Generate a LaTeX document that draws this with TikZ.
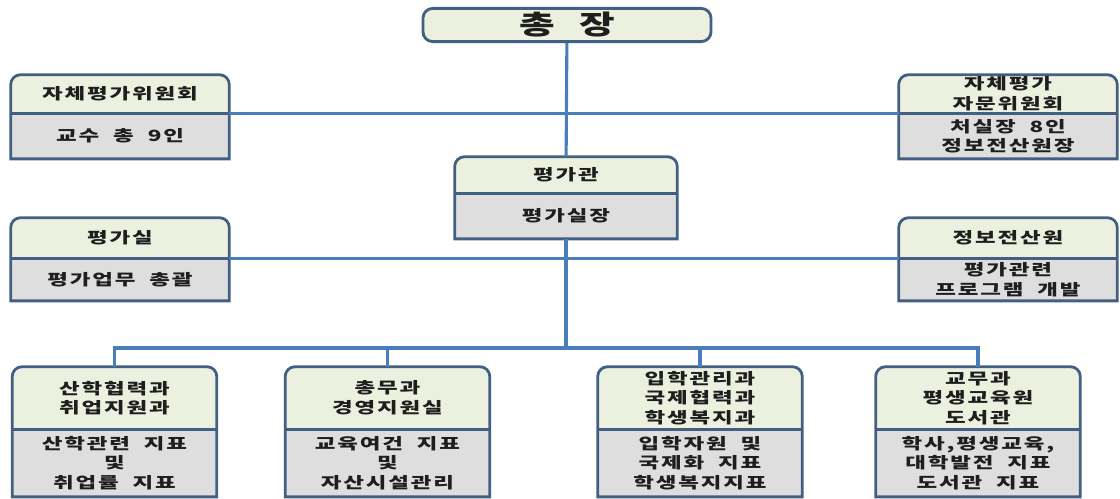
\documentclass[tikz,border=0pt]{standalone}
\usepackage{fontspec}
\usepackage{tikz}
\newfontfamily\kr{Noto Sans CJK KR}[FakeStretch=1.45,LetterSpace=12,WordSpace=2]
\usetikzlibrary{positioning,backgrounds}
\definecolor{headgreen}{RGB}{235,241,222}
\definecolor{bodygrey}{RGB}{222,222,222}
\definecolor{frameblue}{RGB}{66,96,132}
\definecolor{linkblue}{RGB}{74,126,187}
\definecolor{inkgrey}{RGB}{30,30,30}

\begin{document}
\begin{tikzpicture}[
		x=0.025cm, y=-0.025cm,
		every node/.style={font=\kr\bfseries\fontsize{11}{14}\selectfont, text=inkgrey, align=center, inner sep=0pt},
		top/.style={draw=frameblue, line width=2pt, fill=headgreen, rounded corners=7pt,
			minimum width=7.2cm, minimum height=0.83cm, font=\kr\bfseries\fontsize{19}{20}\selectfont},
		side/.style={minimum width=5.45cm},
		mid/.style={minimum width=5.55cm},
		dept/.style={minimum width=5.1cm},
		frame/.style={draw=frameblue, line width=2pt},
		link/.style={draw=linkblue, line width=2.2pt}]

		\useasboundingbox (0,0) rectangle (1120,499);

		\node[top] (chj) at (567,25) {총 장};

		\node[side, minimum height=0.95cm] (jw-h) at (120,94) {자체평가위원회};
		\node[side, minimum height=1.125cm, below=0pt of jw-h] (jw-b) {교수 총 9인};
		\node[side, minimum height=0.95cm] (ja-h) at (1008,94) {자체평가\\자문위원회};
		\node[side, minimum height=1.125cm, below=0pt of ja-h] (ja-b) {처실장 8인\\정보전산원장};

		\node[mid, minimum height=0.9cm] (gk-h) at (566,175) {평가관};
		\node[mid, minimum height=1.125cm, below=0pt of gk-h] (gk-b) {평가실장};

		\node[side, minimum height=1.0cm] (gs-h) at (120,238) {평가실};
		\node[side, minimum height=1.05cm, below=0pt of gs-h] (gs-b) {평가업무 총괄};
		\node[side, minimum height=1.0cm] (jc-h) at (1008,238) {정보전산원};
		\node[side, minimum height=1.05cm, below=0pt of jc-h] (jc-b) {평가관련\\프로그램 개발};

		\node[dept, minimum height=1.55cm] (d1-h) at (114.5,398) {산학협력과\\취업지원과};
		\node[dept, minimum height=1.675cm, below=0pt of d1-h] (d1-b) {산학관련 지표\\및\\취업률 지표};
		\node[dept, minimum height=1.55cm] (d2-h) at (387.5,398) {총무과\\경영지원실};
		\node[dept, minimum height=1.675cm, below=0pt of d2-h] (d2-b) {교육여건 지표\\및\\자산시설관리};
		\node[dept, minimum height=1.55cm] (d3-h) at (700,398) {입학관리과\\국제협력과\\학생복지과};
		\node[dept, minimum height=1.675cm, below=0pt of d3-h] (d3-b) {입학자원 및\\국제화 지표\\학생복지지표};
		\node[dept, minimum height=1.55cm] (d4-h) at (978,398) {교무과\\평생교육원\\도서관};
		\node[dept, minimum height=1.675cm, below=0pt of d4-h] (d4-b) {학사,평생교육,\\대학발전 지표\\도서관 지표};

		% box outlines, rounded at the top only
		\begin{scope}[on background layer]
			\foreach \n in {jw,ja,gk,gs,jc,d1,d2,d3,d4}{
				\fill[headgreen] (\n-h.south west) [rounded corners=7pt] -- (\n-h.north west)
					-- (\n-h.north east) [sharp corners] -- (\n-h.south east) -- cycle;
				\fill[bodygrey] (\n-b.north west) rectangle (\n-b.south east);
				\draw[frame] (\n-b.south west) [rounded corners=7pt] -- (\n-h.north west)
					-- (\n-h.north east) [sharp corners] -- (\n-b.south east) -- cycle;
				\draw[frame] (\n-h.south west) -- (\n-h.south east);
			}
		\end{scope}

		\coordinate (bus) at (566,348);

		\draw[link] (chj) -- (gk-h);
		\draw[link] (jw-h.south east) -- (ja-h.south west);
		\draw[link] (gs-h.south east) -- (jc-h.south west);
		\draw[link] (gk-b.south) -- (bus);
		\draw[link] (d1-h.north) |- (bus) -| (d4-h.north);
		\draw[link] (d2-h.north) -- (d2-h.north |- bus);
		\draw[link] (d3-h.north) -- (d3-h.north |- bus);

\end{tikzpicture}
\end{document}
